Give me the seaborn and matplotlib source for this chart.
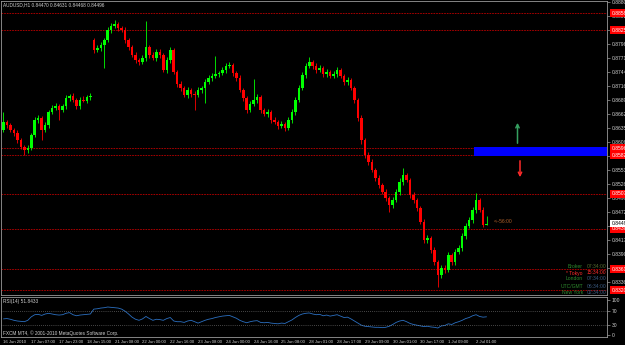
import matplotlib
matplotlib.use('Agg')
import matplotlib.pyplot as plt
from matplotlib.patches import Rectangle
import numpy as np
import pandas as pd
import seaborn as sns

# AUDUSD H1 closes (one value per ~2 px step)
closes = [
    0.86469, 0.86410, 0.86313, 0.86255, 0.86119, 0.85983, 0.85925, 0.85963, 0.86216, 0.86507,
    0.86546, 0.86313, 0.86410, 0.86663, 0.86741, 0.86779, 0.86702, 0.86770, 0.86935, 0.86974,
    0.86896, 0.86779, 0.86896, 0.86880, 0.86954, 0.86974, 0.87868, 0.87906, 0.87965, 0.88062,
    0.88256, 0.88334, 0.88373, 0.88295, 0.88256, 0.88062, 0.87926, 0.87770, 0.87673, 0.87634,
    0.87712, 0.87926, 0.87770, 0.87712, 0.87829, 0.87770, 0.87479, 0.87673, 0.87868, 0.87440,
    0.87207, 0.87129, 0.86993, 0.87090, 0.87013, 0.86993, 0.87090, 0.87129, 0.87246, 0.87324,
    0.87362, 0.87401, 0.87421, 0.87479, 0.87557, 0.87576, 0.87421, 0.87324, 0.87090, 0.86935,
    0.86702, 0.86818, 0.86896, 0.86954, 0.86702, 0.86624, 0.86663, 0.86507, 0.86469, 0.86391,
    0.86430, 0.86352, 0.86507, 0.86663, 0.86896, 0.87129, 0.87382, 0.87557, 0.87634, 0.87557,
    0.87479, 0.87518, 0.87401, 0.87440, 0.87362, 0.87401, 0.87479, 0.87362, 0.87246, 0.87285,
    0.87129, 0.86896, 0.86546, 0.86119, 0.85827, 0.85691, 0.85536, 0.85380, 0.85244, 0.85108,
    0.84992, 0.84856, 0.84953, 0.85108, 0.85303, 0.85439, 0.85342, 0.85050, 0.84953, 0.84798,
    0.84526, 0.84176, 0.84215, 0.83982, 0.83748, 0.83496, 0.83632, 0.83593, 0.83884, 0.83748,
    0.83943, 0.84020, 0.84254, 0.84448, 0.84564, 0.84759, 0.84953, 0.84759, 0.84470, 0.84496,
]
# opens that differ from the previous close (first bar, Monday gap)
gap_opens = {0: 0.86313, 26: 0.88062}
# wick lengths in pips
wick_up = [
    20, 3, 4, 3, 5, 3, 4, 6, 4, 5,
    6, 4, 5, 4, 6, 5, 3, 5, 6, 4,
    5, 3, 6, 8, 4, 5, 4, 6, 5, 4,
    6, 5, 8, 4, 3, 5, 4, 3, 5, 4,
    5, 50, 4, 6, 5, 6, 4, 5, 6, 3,
    4, 5, 3, 6, 4, 5, 6, 4, 5, 6,
    5, 35, 4, 5, 6, 5, 4, 3, 5, 4,
    4, 6, 40, 5, 4, 3, 6, 4, 5, 3,
    5, 4, 6, 5, 6, 5, 6, 5, 10, 4,
    5, 6, 4, 5, 4, 6, 5, 4, 3, 5,
    4, 3, 4, 5, 4, 6, 5, 4, 5, 4,
    5, 4, 6, 5, 8, 14, 4, 3, 5, 4,
    4, 5, 6, 4, 5, 4, 6, 5, 6, 4,
    5, 6, 5, 6, 5, 6, 14, 4, 5, 14,
]
wick_dn = [
    4, 5, 4, 6, 5, 4, 10, 6, 4, 3,
    5, 20, 4, 5, 4, 3, 20, 4, 5, 6,
    4, 5, 6, 3, 4, 5, 6, 4, 5, 45,
    4, 5, 3, 6, 4, 5, 6, 4, 5, 6,
    4, 6, 5, 4, 6, 5, 4, 6, 5, 4,
    6, 5, 4, 6, 5, 30, 4, 5, 30, 4,
    5, 4, 6, 4, 5, 4, 6, 5, 4, 6,
    5, 4, 3, 6, 5, 4, 6, 5, 4, 6,
    4, 5, 4, 6, 5, 4, 3, 5, 4, 6,
    5, 4, 6, 5, 4, 3, 5, 4, 6, 5,
    4, 6, 5, 8, 6, 5, 4, 6, 5, 4,
    6, 14, 5, 4, 6, 5, 4, 5, 6, 5,
    4, 6, 5, 6, 5, 23, 6, 5, 4, 6,
    5, 4, 6, 5, 4, 5, 6, 4, 5, 0,
]
rsi = [
    46, 47, 45, 42, 40, 39, 38, 42, 52, 58,
    59, 56, 60, 62, 60, 58, 57, 58, 62, 64,
    58, 55, 57, 58, 59, 60, 74, 75, 77, 78,
    80, 79, 78, 77, 74, 68, 60, 51, 45, 42,
    46, 53, 47, 42, 45, 44, 42, 47, 50, 40,
    38, 38, 36, 40, 42, 38, 34, 38, 42, 45,
    47, 50, 52, 54, 55, 56, 52, 48, 42, 38,
    35, 38, 40, 41, 36, 35, 36, 34, 33, 32,
    34, 33, 38, 43, 50, 56, 60, 62, 63, 60,
    58, 59, 55, 57, 54, 56, 58, 54, 50, 51,
    46, 40, 34, 28, 25, 24, 23, 22, 22, 21,
    22, 25, 30, 36, 40, 42, 38, 33, 30, 28,
    26, 24, 25, 23, 22, 20, 26, 27, 32, 30,
    35, 38, 42, 47, 50, 55, 58, 53, 51, 52,
]
x_labels = ['16 Jun 2010', '17 Jun 07:00', '17 Jun 23:00', '18 Jun 15:00', '21 Jun 08:00',
            '22 Jun 00:00', '22 Jun 16:00', '23 Jun 08:00', '24 Jun 00:00', '24 Jun 16:00',
            '25 Jun 08:00', '28 Jun 01:00', '28 Jun 17:00', '29 Jun 09:00', '30 Jun 01:00',
            '30 Jun 17:00', '1 Jul 09:00', '2 Jul 01:00']
price_ticks = [0.88800, 0.88528, 0.88256, 0.87984, 0.87712, 0.87440, 0.87168, 0.86896,
               0.86624, 0.86352, 0.86080, 0.85808, 0.85536, 0.85264, 0.84992, 0.84720,
               0.84448, 0.84176, 0.83904, 0.83632, 0.83360]
# horizontal support / resistance lines
levels = [0.88586, 0.88256, 0.85963, 0.85827, 0.85070, 0.84390, 0.83612, 0.83204]
zone = (0.85808, 0.85983)
sessions = ['Broker', '* Tokyo', 'London', 'UTC/GMT', 'New York']
session_times = ['07:34:00', '15:34:00', '07:34:00', '06:34:00', '02:34:00']

# build OHLC frame
df = pd.DataFrame({'close': closes})
df['open'] = df['close'].shift(1)
for i, v in gap_opens.items():
    df.loc[i, 'open'] = v
df['high'] = df[['open', 'close']].max(axis=1) + np.array(wick_up) / 10000
df['low'] = df[['open', 'close']].min(axis=1) - np.array(wick_dn) / 10000
df['bar'] = np.arange(1, len(df) + 1)
df['rsi'] = rsi

W, H = 625, 345
PX = 3.475  # pixels per bar

sns.set_style('dark')
plt.rcParams['font.family'] = ['Liberation Sans', 'DejaVu Sans']

fig = plt.figure(figsize=(W / 100, H / 100), dpi=100, facecolor='black')
ax = fig.add_axes([1 / W, 50 / H, 606 / W, 294 / H], facecolor='black')
ax2 = fig.add_axes([1 / W, 8 / H, 606 / W, 40 / H], facecolor='black')

fs = 3.6
grey = '#9a9a9a'
txt = '#d0d0d0'


def fpx(x, y):
    return x / W, 1 - y / H


# candles
up = df['close'] >= df['open']
cols = np.where(up, '#00ff00', '#ff0000')
ax.vlines(df['bar'], df['low'], df['high'], colors=cols, lw=0.6, zorder=3)
body = (df['close'] - df['open']).abs().clip(lower=0.00008)
ax.bar(df['bar'], body, bottom=df[['open', 'close']].min(axis=1), width=0.72,
       color=cols, linewidth=0, zorder=4)

# levels
for lv in levels:
    ax.axhline(lv, color='#c00000', lw=0.6, ls=(0, (2, 1.2)), zorder=2)
ax.add_patch(Rectangle((474 / PX, zone[0]), 200, zone[1] - zone[0],
                       color='#0000ff', lw=0, zorder=5))

# arrows
ax.annotate('', xy=(517.5 / PX, 0.86507), xytext=(517.5 / PX, 0.86002),
            arrowprops=dict(arrowstyle='->', color='#35a060', lw=1.1, mutation_scale=6))
ax.annotate('', xy=(520 / PX, 0.85342), xytext=(520 / PX, 0.85769),
            arrowprops=dict(arrowstyle='->', color='#ff2a2a', lw=1.1, mutation_scale=6))

ax.text(494 / PX, 0.84526, '<--56:00', color='#b0602a', fontsize=fs, va='center')

ax.set_xlim(1 / PX, 607 / PX)
ax.set_ylim(0.83107, 0.88820)
ax.grid(False)
ax.set_xticks([])
ax.yaxis.tick_right()
ax.set_yticks(price_ticks)
ax.set_yticklabels(['%.5f' % t for t in price_ticks])
ax.tick_params(axis='y', colors=grey, labelcolor=txt, labelsize=fs, length=2,
               width=0.5, pad=1.5)
for s in ax.spines.values():
    s.set_color(grey)
    s.set_linewidth(0.6)

# price tags on the scale
for lv in levels:
    ax.annotate('%.5f' % lv, xy=(1, lv), xycoords=('axes fraction', 'data'),
                xytext=(3.2, 0), textcoords='offset points', ha='left', va='center',
                fontsize=fs, color='white', annotation_clip=False, zorder=10,
                bbox=dict(boxstyle='square,pad=0.25', fc='#ff0000', ec='none'))
ax.annotate('%.5f' % closes[-1], xy=(1, closes[-1]), xycoords=('axes fraction', 'data'),
            xytext=(3.2, 0), textcoords='offset points', ha='left', va='center',
            fontsize=fs, color='black', annotation_clip=False, zorder=11,
            bbox=dict(boxstyle='square,pad=0.25', fc='white', ec='none'))

# RSI panel
sns.lineplot(data=df, x='bar', y='rsi', ax=ax2, color='#2b6fc0', lw=0.6)
for lv in (70, 30):
    ax2.axhline(lv, color='#8a8a8a', lw=0.5, ls=(0, (1, 2)))
ax2.set_xlim(1 / PX, 607 / PX)
ax2.set_ylim(-5.7, 108.6)
ax2.grid(False)
ax2.set_xlabel('')
ax2.set_ylabel('')
ax2.yaxis.tick_right()
ax2.set_yticks([100, 70, 30, 0])
ax2.set_yticklabels(['100', '70', '30', '0'])
ax2.tick_params(axis='y', colors=grey, labelcolor=txt, labelsize=fs, length=2,
                width=0.5, pad=1.5)
ax2.set_xticks([1 + 8 * k for k in range(len(x_labels))])
ax2.set_xticklabels(x_labels, ha='left')
ax2.tick_params(axis='x', colors=grey, labelcolor=txt, labelsize=3.1, length=2,
                width=0.5, pad=0.5)
for s in ax2.spines.values():
    s.set_color(grey)
    s.set_linewidth(0.6)

# captions
fig.text(*fpx(3, 5), 'AUDUSD,H1 0.84470 0.84631 0.84468 0.84496', color=txt,
         fontsize=3.4, va='center')
fig.text(*fpx(3, 302), 'RSI(14) 51.8433', color=txt, fontsize=3.4, va='center')
fig.text(*fpx(3, 333), 'FXCM MT4, \u00a9 2001-2010 MetaQuotes Software Corp.', color=txt,
         fontsize=3.4, va='center')

rows = [266, 273, 279, 286, 292]
name_cols = ['#2e8b2e', '#ff2a2a', '#2e8b2e', '#2e8b2e', '#2e8b2e']
time_cols = ['#556b2f', '#ff2a2a', '#3a5a80', '#3a5a80', '#3a5a80']
for y, n, t, nc, tc in zip(rows, sessions, session_times, name_cols, time_cols):
    fig.text(*fpx(583, y), n, color=nc, fontsize=fs, ha='right', va='center', zorder=12)
    fig.text(*fpx(587, y), t, color=tc, fontsize=fs, ha='left', va='center', zorder=12)

fig.savefig('out.png', dpi=100, facecolor='black')
